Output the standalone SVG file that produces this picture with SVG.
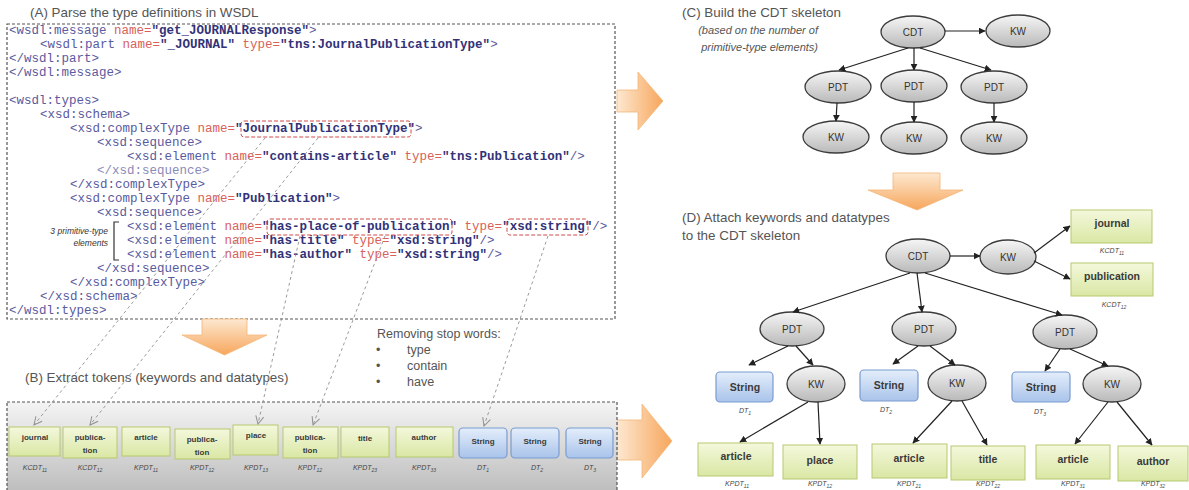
<svg xmlns="http://www.w3.org/2000/svg" width="1189" height="490" viewBox="0 0 1189 490">
<style>
.ttl{font-family:"Liberation Sans",Arial,sans-serif;font-size:13.4px;fill:#555}
.sw{font-family:"Liberation Sans",Arial,sans-serif;font-size:12.5px;fill:#555}
.ital{font-family:"Liberation Sans",Arial,sans-serif;font-size:11px;fill:#555;font-style:italic}
.code{font-family:"Liberation Mono","Courier New",monospace;font-size:12.5px;fill:#5a5a9e}
.at{fill:#d9615a}
.v{fill:#323278;font-weight:bold}
.lt{fill:#8a8ab8}
.hl{fill:none;stroke:#d04a4a;stroke-width:1;stroke-dasharray:4 2}
.dbox{fill:none;stroke:#555;stroke-width:1.2;stroke-dasharray:3 2}
.gl{fill:none;stroke:#909090;stroke-width:0.9;stroke-dasharray:3 3;marker-end:url(#open)}
.ell{fill:url(#gEll);stroke:#3c3c3c;stroke-width:1.3}
.en{font-family:"Liberation Sans",Arial,sans-serif;font-size:10px;fill:#333;text-anchor:middle}
.con{fill:none;stroke:#222;stroke-width:1.2;marker-end:url(#arr)}
.gb{fill:url(#gGreen);stroke:#b5c96e;stroke-width:1}
.bb{fill:url(#gBlue);stroke:#7b9bcf;stroke-width:1.2}
.bl{font-family:"Liberation Sans",Arial,sans-serif;font-weight:bold;fill:#3a3a3a;text-anchor:middle}
.sub{font-family:"Liberation Sans",Arial,sans-serif;font-style:italic;fill:#444;text-anchor:middle;font-size:7px}
.note{font-family:"Liberation Sans",Arial,sans-serif;font-style:italic;font-size:8.5px;fill:#333;text-anchor:end}
.oa{fill:url(#gOrV);stroke:#f2b679;stroke-width:0.8}
.oh{fill:url(#gOrH);stroke:#f2b679;stroke-width:0.8}
</style>
<defs>
<linearGradient id="gEll" x1="0" y1="0" x2="0" y2="1"><stop offset="0" stop-color="#f6f6f6"/><stop offset="1" stop-color="#b9b9b9"/></linearGradient>
<linearGradient id="gGreen" x1="0" y1="0" x2="0" y2="1"><stop offset="0" stop-color="#f4f8dc"/><stop offset="1" stop-color="#d9e7a4"/></linearGradient>
<linearGradient id="gBlue" x1="0" y1="0" x2="0" y2="1"><stop offset="0" stop-color="#e4eefb"/><stop offset="1" stop-color="#a9c3ea"/></linearGradient>
<linearGradient id="gBar" x1="0" y1="0" x2="0" y2="1"><stop offset="0" stop-color="#f4f4f4"/><stop offset="1" stop-color="#bcbcbc"/></linearGradient>
<linearGradient id="gOrV" x1="0" y1="0" x2="0" y2="1"><stop offset="0" stop-color="#fde8d0"/><stop offset="1" stop-color="#f7a65c"/></linearGradient>
<linearGradient id="gOrH" x1="0" y1="0" x2="1" y2="0"><stop offset="0" stop-color="#fde8d0"/><stop offset="1" stop-color="#f7a65c"/></linearGradient>
<marker id="arr" viewBox="0 0 10 10" refX="9" refY="5" markerWidth="7" markerHeight="7" orient="auto" markerUnits="userSpaceOnUse"><path d="M0,0 L10,5 L0,10 z" fill="#222"/></marker>
<marker id="open" viewBox="0 0 10 10" refX="9" refY="5" markerWidth="10" markerHeight="10" orient="auto" markerUnits="userSpaceOnUse"><path d="M1,1 L9,5 L1,9" fill="none" stroke="#909090" stroke-width="1"/></marker>
</defs>

<g id="panelA">
<text class="ttl" x="30" y="17">(A) Parse the type definitions in WSDL</text>
<rect class="dbox" x="7" y="24" width="608" height="295"/>
<g class="code" xml:space="preserve">
<text x="9" y="34">&lt;wsdl:message <tspan class="at">name=</tspan><tspan class="v">"get_JOURNALResponse"</tspan>&gt;</text>
<text x="40" y="48">&lt;wsdl:part <tspan class="at">name=</tspan><tspan class="v">"_JOURNAL"</tspan> <tspan class="at">type=</tspan><tspan class="v">"tns:JournalPublicationType"</tspan>&gt;</text>
<text x="9" y="62">&lt;/wsdl:part&gt;</text>
<text x="9" y="76">&lt;/wsdl:message&gt;</text>
<text x="9" y="104">&lt;wsdl:types&gt;</text>
<text x="40" y="118">&lt;xsd:schema&gt;</text>
<text x="70" y="132">&lt;xsd:complexType <tspan class="at">name=</tspan><tspan class="v">"JournalPublicationType"</tspan>&gt;</text>
<text x="97" y="146">&lt;xsd:sequence&gt;</text>
<text x="127" y="160">&lt;xsd:element <tspan class="at">name=</tspan><tspan class="v">"contains-article"</tspan> <tspan class="at">type=</tspan><tspan class="v">"tns:Publication"</tspan>/&gt;</text>
<text x="97" y="174" class="lt">&lt;/xsd:sequence&gt;</text>
<text x="70" y="188">&lt;/xsd:complexType&gt;</text>
<text x="70" y="202">&lt;xsd:complexType <tspan class="at">name=</tspan><tspan class="v">"Publication"</tspan>&gt;</text>
<text x="97" y="216">&lt;xsd:sequence&gt;</text>
<text x="127" y="230">&lt;xsd:element <tspan class="at">name=</tspan><tspan class="v">"has-place-of-publication"</tspan> <tspan class="at">type=</tspan><tspan class="v">"xsd:string"</tspan>/&gt;</text>
<text x="127" y="244">&lt;xsd:element <tspan class="at">name=</tspan><tspan class="v">"has-title"</tspan> <tspan class="at">type=</tspan><tspan class="v">"xsd:string"</tspan>/&gt;</text>
<text x="127" y="258">&lt;xsd:element <tspan class="at">name=</tspan><tspan class="v">"has-author"</tspan> <tspan class="at">type=</tspan><tspan class="v">"xsd:string"</tspan>/&gt;</text>
<text x="97" y="272">&lt;/xsd:sequence&gt;</text>
<text x="70" y="286">&lt;/xsd:complexType&gt;</text>
<text x="40" y="300">&lt;/xsd:schema&gt;</text>
<text x="9" y="314">&lt;/wsdl:types&gt;</text>
</g>
<rect class="hl" x="241" y="121" width="170" height="16" rx="3"/>
<rect class="hl" x="267" y="219" width="185" height="16" rx="3"/>
<rect class="hl" x="507" y="219" width="81" height="16" rx="3"/>
<text class="note" x="108" y="234">3 primitive-type</text>
<text class="note" x="108" y="246">elements</text>
<path d="M119,222 L114,222 L114,260 L119,260" fill="none" stroke="#333" stroke-width="1.2"/>
</g>

<g id="arrows-orange">
<path class="oh" d="M617,90 L638,90 L638,72 L663,101 L638,130 L638,112 L617,112 z"/>
<path class="oa" d="M202,319 L247,319 L247,335 L267,335 L224.5,355 L182,335 L202,335 z"/>
<path class="oh" d="M617,420 L642,420 L642,404 L672,441 L642,478 L642,460 L617,460 z"/>
<path class="oa" d="M893,173 L940,173 L940,190 L963,190 L917,210 L868,190 L893,190 z"/>
</g>

<g id="panelB">
<text class="ttl" x="25" y="382">(B) Extract tokens (keywords and datatypes)</text>
<text class="sw" x="377" y="338">Removing stop words:</text>
<text class="sw" x="376" y="354">•</text><text class="sw" x="407" y="354">type</text>
<text class="sw" x="376" y="370">•</text><text class="sw" x="407" y="370">contain</text>
<text class="sw" x="376" y="386">•</text><text class="sw" x="407" y="386">have</text>
<rect x="7" y="402" width="610" height="92" fill="url(#gBar)" stroke="#555" stroke-width="1.2" stroke-dasharray="3 2"/>
</g>

<g id="tokens">
<g id="t1"><rect class="gb" x="9" y="427" width="51" height="29"/><text class="bl" x="35" y="440" font-size="8">journal</text><text class="sub" x="35" y="470">KCDT<tspan dy="2" font-size="5">11</tspan></text></g>
<g id="t2"><rect class="gb" x="63" y="427" width="54" height="31"/><text class="bl" x="90" y="440" font-size="8">publica-</text><text class="bl" x="90" y="453" font-size="8">tion</text><text class="sub" x="90" y="470">KCDT<tspan dy="2" font-size="5">12</tspan></text></g>
<g id="t3"><rect class="gb" x="122" y="427" width="48" height="29"/><text class="bl" x="146" y="440" font-size="8">article</text><text class="sub" x="146" y="470">KPDT<tspan dy="2" font-size="5">11</tspan></text></g>
<g id="t4"><rect class="gb" x="175" y="429" width="55" height="30"/><text class="bl" x="202" y="442" font-size="8">publica-</text><text class="bl" x="202" y="455" font-size="8">tion</text><text class="sub" x="202" y="470">KPDT<tspan dy="2" font-size="5">12</tspan></text></g>
<g id="t5"><rect class="gb" x="233" y="425" width="45" height="30"/><text class="bl" x="256" y="438" font-size="8">place</text><text class="sub" x="256" y="470">KPDT<tspan dy="2" font-size="5">13</tspan></text></g>
<g id="t6"><rect class="gb" x="283" y="427" width="55" height="31"/><text class="bl" x="310" y="440" font-size="8">publica-</text><text class="bl" x="310" y="453" font-size="8">tion</text><text class="sub" x="310" y="470">KPDT<tspan dy="2" font-size="5">12</tspan></text></g>
<g id="t7"><rect class="gb" x="341" y="427" width="48" height="30"/><text class="bl" x="365" y="441" font-size="8">title</text><text class="sub" x="365" y="470">KPDT<tspan dy="2" font-size="5">23</tspan></text></g>
<g id="t8"><rect class="gb" x="396" y="427" width="57" height="30"/><text class="bl" x="424" y="440" font-size="8">author</text><text class="sub" x="424" y="470">KPDT<tspan dy="2" font-size="5">33</tspan></text></g>
<g id="t9"><rect class="bb" x="459" y="428" width="48" height="30" rx="4"/><text class="bl" x="483" y="444" font-size="8">String</text><text class="sub" x="483" y="470">DT<tspan dy="2" font-size="5">1</tspan></text></g>
<g id="t10"><rect class="bb" x="511" y="428" width="48" height="30" rx="4"/><text class="bl" x="535" y="444" font-size="8">String</text><text class="sub" x="537" y="470">DT<tspan dy="2" font-size="5">2</tspan></text></g>
<g id="t11"><rect class="bb" x="566" y="428" width="47" height="30" rx="4"/><text class="bl" x="590" y="444" font-size="8">String</text><text class="sub" x="590" y="470">DT<tspan dy="2" font-size="5">3</tspan></text></g>
</g>

<g id="token-connectors">
<path class="gl" d="M265,138 L34,425"/>
<path class="gl" d="M318,138 L90,425"/>
<path class="gl" d="M300,236 L258,424"/>
<path class="gl" d="M385,236 L313,425"/>
<path class="gl" d="M548,236 L484,426"/>
</g>

<g id="panelC">
<text class="ttl" x="682" y="17">(C) Build the CDT skeleton</text>
<text class="ital" x="818" y="34" text-anchor="end">(based on the number of</text>
<text class="ital" x="818" y="51" text-anchor="end">primitive-type elements)</text>
<g id="c-cdt"><ellipse class="ell" cx="913" cy="32" rx="32" ry="16"/><text class="en" x="913" y="36">CDT</text></g>
<g id="c-kw0"><ellipse class="ell" cx="1018" cy="31" rx="32" ry="16"/><text class="en" x="1018" y="35">KW</text></g>
<g id="c-pdt1"><ellipse class="ell" cx="838" cy="87" rx="33" ry="16"/><text class="en" x="838" y="91">PDT</text></g>
<g id="c-pdt2"><ellipse class="ell" cx="914" cy="86" rx="33" ry="16"/><text class="en" x="914" y="90">PDT</text></g>
<g id="c-pdt3"><ellipse class="ell" cx="994" cy="87" rx="33" ry="16"/><text class="en" x="994" y="91">PDT</text></g>
<g id="c-kw1"><ellipse class="ell" cx="836" cy="137" rx="33" ry="16"/><text class="en" x="836" y="141">KW</text></g>
<g id="c-kw2"><ellipse class="ell" cx="914" cy="138" rx="33" ry="16"/><text class="en" x="914" y="142">KW</text></g>
<g id="c-kw3"><ellipse class="ell" cx="994" cy="138" rx="33" ry="16"/><text class="en" x="994" y="142">KW</text></g>
</g>

<g id="panelD">
<text class="ttl" x="682" y="222">(D) Attach keywords and datatypes</text>
<text class="ttl" x="682" y="240">to the CDT skeleton</text>
<g id="d-cdt"><ellipse class="ell" cx="918" cy="256" rx="32" ry="17"/><text class="en" x="918" y="260">CDT</text></g>
<g id="d-kw0"><ellipse class="ell" cx="1008" cy="257" rx="28" ry="17"/><text class="en" x="1008" y="261">KW</text></g>
<g id="d-journal"><rect class="gb" x="1071" y="210" width="81" height="33"/><text class="bl" x="1112" y="227" font-size="10.5">journal</text><text class="sub" x="1112" y="253">KCDT<tspan dy="2" font-size="5">11</tspan></text></g>
<g id="d-publication"><rect class="gb" x="1071" y="263" width="82" height="33"/><text class="bl" x="1112" y="280" font-size="10.5">publication</text><text class="sub" x="1114" y="307">KCDT<tspan dy="2" font-size="5">12</tspan></text></g>
<g id="d-pdt1"><ellipse class="ell" cx="792" cy="329" rx="32" ry="17"/><text class="en" x="792" y="333">PDT</text></g>
<g id="d-pdt2"><ellipse class="ell" cx="924" cy="329" rx="32" ry="17"/><text class="en" x="924" y="333">PDT</text></g>
<g id="d-pdt3"><ellipse class="ell" cx="1065" cy="332" rx="32" ry="17"/><text class="en" x="1065" y="336">PDT</text></g>
<g id="d-str1"><rect class="bb" x="716" y="372" width="57" height="30" rx="4"/><text class="bl" x="745" y="391" font-size="10.5">String</text><text class="sub" x="745" y="413">DT<tspan dy="2" font-size="5">1</tspan></text></g>
<g id="d-str2"><rect class="bb" x="860" y="370" width="58" height="31" rx="4"/><text class="bl" x="889" y="389" font-size="10.5">String</text><text class="sub" x="886" y="412">DT<tspan dy="2" font-size="5">2</tspan></text></g>
<g id="d-str3"><rect class="bb" x="1012" y="372" width="58" height="30" rx="4"/><text class="bl" x="1041" y="391" font-size="10.5">String</text><text class="sub" x="1040" y="414">DT<tspan dy="2" font-size="5">3</tspan></text></g>
<g id="d-kw1"><ellipse class="ell" cx="816" cy="384" rx="29" ry="18"/><text class="en" x="816" y="388">KW</text></g>
<g id="d-kw2"><ellipse class="ell" cx="957" cy="383" rx="29" ry="18"/><text class="en" x="957" y="387">KW</text></g>
<g id="d-kw3"><ellipse class="ell" cx="1112" cy="384" rx="29" ry="18"/><text class="en" x="1112" y="388">KW</text></g>
<g id="d-article1"><rect class="gb" x="698" y="443" width="75" height="33"/><text class="bl" x="736" y="460" font-size="10.5">article</text><text class="sub" x="737" y="486">KPDT<tspan dy="1.5" font-size="5">11</tspan></text></g>
<g id="d-place"><rect class="gb" x="783" y="445" width="74" height="34"/><text class="bl" x="820" y="464" font-size="10.5">place</text><text class="sub" x="820" y="486">KPDT<tspan dy="1.5" font-size="5">12</tspan></text></g>
<g id="d-article2"><rect class="gb" x="872" y="444" width="75" height="34"/><text class="bl" x="909" y="462" font-size="10.5">article</text><text class="sub" x="909" y="486">KPDT<tspan dy="1.5" font-size="5">21</tspan></text></g>
<g id="d-title"><rect class="gb" x="951" y="446" width="74" height="34"/><text class="bl" x="988" y="463" font-size="10.5">title</text><text class="sub" x="988" y="486">KPDT<tspan dy="1.5" font-size="5">22</tspan></text></g>
<g id="d-article3"><rect class="gb" x="1036" y="445" width="74" height="34"/><text class="bl" x="1073" y="463" font-size="10.5">article</text><text class="sub" x="1073" y="486">KPDT<tspan dy="1.5" font-size="5">31</tspan></text></g>
<g id="d-author"><rect class="gb" x="1118" y="446" width="70" height="35"/><text class="bl" x="1153" y="465" font-size="10.5">author</text><text class="sub" x="1153" y="486">KPDT<tspan dy="1.5" font-size="5">32</tspan></text></g>
</g>

<g id="connectors">
<path class="con" d="M945,31 L985,31"/>
<path class="con" d="M908,48 L839,70"/>
<path class="con" d="M914,48 L914,70"/>
<path class="con" d="M920,48 L991,70"/>
<path class="con" d="M837,103 L836,121"/>
<path class="con" d="M914,102 L914,122"/>
<path class="con" d="M994,103 L994,122"/>
<path class="con" d="M950,256 L980,256"/>
<path class="con" d="M1034,253 L1070,226"/>
<path class="con" d="M1034,261 L1070,279"/>
<path class="con" d="M910,273 L793,312"/>
<path class="con" d="M917,273 L922,312"/>
<path class="con" d="M925,273 L1062,315"/>
<path class="con" d="M788,346 L749,365"/>
<path class="con" d="M796,346 L813,365"/>
<path class="con" d="M918,346 L893,364"/>
<path class="con" d="M930,346 L955,365"/>
<path class="con" d="M1060,349 L1045,371"/>
<path class="con" d="M1070,349 L1108,366"/>
<path class="con" d="M808,402 L740,442"/>
<path class="con" d="M818,402 L820,444"/>
<path class="con" d="M952,401 L913,443"/>
<path class="con" d="M962,401 L987,445"/>
<path class="con" d="M1108,402 L1075,444"/>
<path class="con" d="M1117,402 L1152,445"/>
</g>
</svg>
